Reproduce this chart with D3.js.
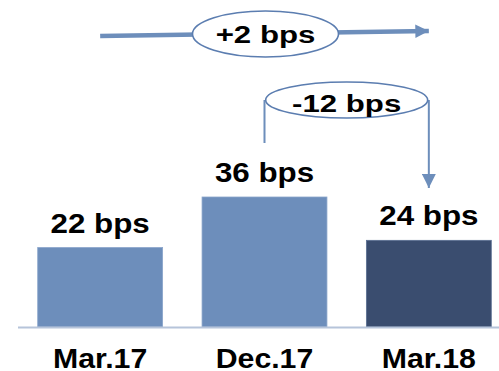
<!DOCTYPE html>
<html>
<head>
<meta charset="utf-8">
<script src="https://cdn.jsdelivr.net/npm/d3@7"></script>
<style>
  html, body { margin: 0; padding: 0; background: #fff; }
  svg { display: block; }
  text { font-family: "Liberation Sans", Arial, sans-serif; font-weight: bold; fill: #000; }
</style>
</head>
<body>
<div class="chart"></div>
<script>
// data
var categories = ["Mar.17", "Dec.17", "Mar.18"];
var values = [22, 36, 24];
var valueLabels = ["22 bps", "36 bps", "24 bps"];
var barColors = ["#6d8ebb", "#6d8ebb", "#3a4d6f"];
// change annotations: [from index, to index]
var changeFrom = [0, 1];
var changeTo = [2, 2];
var changeLabels = ["+2 bps", "-12 bps"];

var width = 499, height = 371;
var baseY = 327;
var lineColor = "#6d8ebb";

var svg = d3.select('.chart')
    .append('svg')
    .attr('width', width)
    .attr('height', height);

var x = d3.scaleBand()
    .domain(categories)
    .range([18, 511])
    .paddingInner(0.24)
    .paddingOuter(0.12);

var y = d3.scaleLinear()
    .domain([0, 36])
    .range([baseY, 197]);

function cx(i){ return x(categories[i]) + x.bandwidth() / 2; }

// stretched bold label helper
function label(str, px, py, size, sx){
    svg.append('g')
        .attr('transform', 'translate(' + px + ',' + py + ') scale(' + sx + ',1)')
        .append('text')
        .attr('text-anchor', 'middle')
        .style('font-size', size + 'px')
        .text(str);
}

// bars
svg.selectAll('rect.bar')
    .data(values)
    .enter()
    .append('rect')
    .attr('class', 'bar')
    .attr('x', function(d, i){ return x(categories[i]); })
    .attr('y', function(d){ return y(d); })
    .attr('width', x.bandwidth())
    .attr('height', function(d){ return baseY - y(d); })
    .style('fill', function(d, i){ return barColors[i]; })
    .style('stroke', function(d, i){ return i == 2 ? '#5a6f92' : '#8aa5cb'; })
    .style('stroke-width', 0.8);

// baseline
svg.append('line')
    .attr('x1', 18).attr('x2', width)
    .attr('y1', baseY + 0.5).attr('y2', baseY + 0.5)
    .style('stroke', '#b6c4da')
    .style('stroke-width', 2);

// value labels
values.forEach(function(v, i){
    label(valueLabels[i], cx(i), y(v) - 15, 28.5, 1.1);
});

// category labels
categories.forEach(function(c, i){
    label(c, cx(i), 368, 28, 1.08);
});

// arrowheads
var defs = svg.append('defs');
defs.append('marker')
    .attr('id', 'headBig')
    .attr('viewBox', '0 0 10 10')
    .attr('refX', 10).attr('refY', 5)
    .attr('markerWidth', 3.4).attr('markerHeight', 3)
    .attr('markerUnits', 'strokeWidth')
    .attr('orient', 'auto')
    .append('path').attr('d', 'M0,0 L10,5 L0,10 z').style('fill', lineColor);
defs.append('marker')
    .attr('id', 'headSmall')
    .attr('viewBox', '0 0 10 10')
    .attr('refX', 10).attr('refY', 5)
    .attr('markerWidth', 7.5).attr('markerHeight', 7)
    .attr('markerUnits', 'strokeWidth')
    .attr('orient', 'auto')
    .append('path').attr('d', 'M0,0 L10,5 L0,10 z').style('fill', lineColor);

// +2 bps: long arrow across top
var a0 = cx(changeFrom[0]), a1 = cx(changeTo[0]);
svg.append('line')
    .attr('x1', a0).attr('y1', 36)
    .attr('x2', a1).attr('y2', 31)
    .style('stroke', lineColor)
    .style('stroke-width', 4.5)
    .attr('marker-end', 'url(#headBig)');
var e1x = (a0 + a1) / 2 + 1;
svg.append('ellipse')
    .attr('cx', e1x).attr('cy', 34)
    .attr('rx', 73).attr('ry', 23)
    .style('fill', '#fff')
    .style('stroke', '#5b7db0')
    .style('stroke-width', 1.6);
label(changeLabels[0], e1x, 42.5, 24, 1.3);

// -12 bps: bracket from Dec.17 down to Mar.18
var b0 = cx(changeFrom[1]), b1 = cx(changeTo[1]);
svg.append('path')
    .attr('d', 'M' + b0 + ',143 L' + b0 + ',100 M' + b1 + ',100 L' + b1 + ',188')
    .style('fill', 'none')
    .style('stroke', lineColor)
    .style('stroke-width', 2)
    .attr('marker-end', 'url(#headSmall)');
var e2x = (b0 + b1) / 2;
svg.append('ellipse')
    .attr('cx', e2x).attr('cy', 100)
    .attr('rx', 81).attr('ry', 18)
    .style('fill', '#fff')
    .style('stroke', '#5b7db0')
    .style('stroke-width', 1.6);
label(changeLabels[1], e2x, 112, 24, 1.3);
</script>
</body>
</html>
